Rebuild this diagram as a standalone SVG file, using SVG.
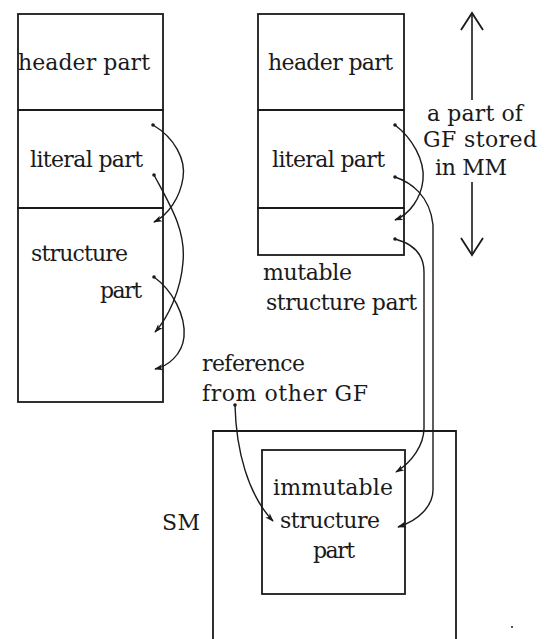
<svg xmlns="http://www.w3.org/2000/svg" width="548" height="639" viewBox="0 0 548 639">
<style>
.box{fill:none;stroke:#1a1a1a;stroke-width:1.8}
.t{font-family:"DejaVu Serif","Liberation Serif",serif;font-size:22px;fill:#1a1a1a}
.c{fill:none;stroke:#1a1a1a;stroke-width:1.4;marker-end:url(#ah);marker-start:url(#dot)}
.v{fill:none;stroke:#1a1a1a;stroke-width:1.6}
</style>
<defs>
<marker id="ah" viewBox="0 0 10 8" refX="9" refY="4" markerWidth="9" markerHeight="7" markerUnits="userSpaceOnUse" orient="auto">
<path d="M0,0.5 L10,4 L0,7.5 L2.5,4 z" fill="#1a1a1a"/>
</marker>
<marker id="dot" viewBox="0 0 4 4" refX="2" refY="2" markerWidth="4" markerHeight="4" markerUnits="userSpaceOnUse">
<circle cx="2" cy="2" r="1.8" fill="#1a1a1a"/>
</marker>
<marker id="open" viewBox="0 0 20 24" refX="18" refY="12" markerWidth="20" markerHeight="24" markerUnits="userSpaceOnUse" orient="auto-start-reverse">
<path d="M1,1 L18,12 L1,23" fill="none" stroke="#1a1a1a" stroke-width="1.8"/>
</marker>
</defs>
<rect width="548" height="639" fill="#ffffff"/>

<g id="left-header"><rect class="box" x="18" y="14" width="145" height="96"/><text class="t" x="18" y="70" textLength="132">header part</text></g>
<g id="left-literal"><rect class="box" x="18" y="110" width="145" height="98"/><text class="t" x="30" y="167" textLength="113">literal part</text></g>
<g id="left-structure"><rect class="box" x="18" y="208" width="145" height="194"/><text class="t" x="31" y="261" textLength="97">structure</text><text class="t" x="100" y="298" textLength="42">part</text></g>

<g id="right-header"><rect class="box" x="258" y="14" width="146" height="96"/><text class="t" x="268" y="70" textLength="125">header part</text></g>
<g id="right-literal"><rect class="box" x="258" y="110" width="146" height="98"/><text class="t" x="272" y="167" textLength="113">literal part</text></g>
<g id="right-mutable"><rect class="box" x="258" y="208" width="146" height="47"/><text class="t" x="263" y="280" textLength="89">mutable</text><text class="t" x="266" y="310" textLength="151">structure part</text></g>

<g id="mm-range">
<line class="v" x1="472" y1="13" x2="472" y2="100" marker-start="url(#open)"/>
<line class="v" x1="472" y1="182" x2="472" y2="255" marker-end="url(#open)"/>
<text class="t" x="427" y="121" textLength="96">a part of</text>
<text class="t" x="423" y="147" textLength="114">GF stored</text>
<text class="t" x="435" y="175" textLength="72">in MM</text>
</g>

<g id="reference-label"><text class="t" x="202" y="371" textLength="103">reference</text><text class="t" x="202" y="401" textLength="166">from other GF</text></g>

<g id="sm"><path class="box" d="M213,639 V431 H456 V639"/><text class="t" x="162" y="530" textLength="38">SM</text></g>
<g id="immutable"><rect class="box" x="262" y="450" width="143" height="144"/><text class="t" x="273" y="495" textLength="120">immutable</text><text class="t" x="280" y="528" textLength="100">structure</text><text class="t" x="313" y="558" textLength="42">part</text></g>

<g id="connectors">
<path class="c" d="M153,125 C175,138 186,160 183,178 C180,198 168,215 154,222"/>
<path class="c" d="M154,175 C170,205 186,230 183,262 C181,290 168,318 155,332"/>
<path class="c" d="M154,277 C172,290 186,315 184,337 C182,355 168,366 155,369"/>
<path class="c" d="M395,125 C412,138 425,160 423,180 C421,198 410,214 395,220"/>
<path class="c" d="M395,177 C410,182 430,195 433,225 L433,490 C433,505 420,520 398,527"/>
<path class="c" d="M395,239 C410,243 424,252 424,272 L424,428 C424,445 412,462 396,472"/>
<path class="c" d="M235,405 C236,450 248,495 273,521"/>
</g>
<circle cx="512" cy="627" r="1" fill="#1a1a1a"/>
</svg>
